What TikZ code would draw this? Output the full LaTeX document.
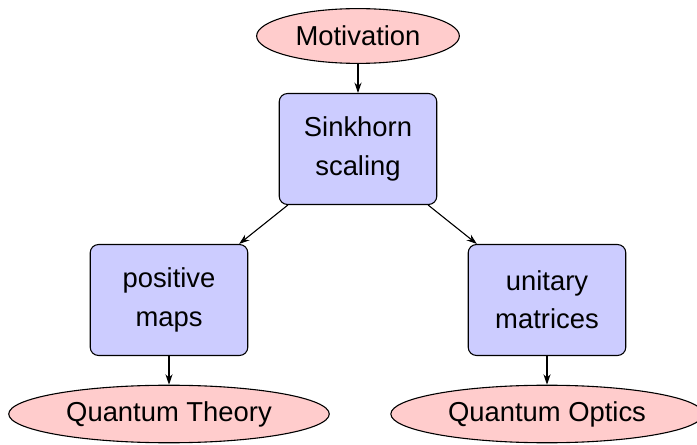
\documentclass[tikz,border=0pt]{standalone}
\usepackage{fontspec}
\setmainfont{Liberation Sans}
\usetikzlibrary{arrows.meta,shapes.geometric}

\begin{document}
\begin{tikzpicture}[x=0.365pt, y=-0.365pt, >={Stealth[length=3.8pt,width=2.6pt]},
  goal/.style={ellipse, draw, fill=red!20, inner sep=0pt, minimum height=21pt},
  topic/.style={rectangle, rounded corners=3pt, draw, fill=blue!20, align=center,
    minimum width=57.5pt, minimum height=40.5pt, font=\fontsize{10}{14}\selectfont}]
  \useasboundingbox (0,0) rectangle (697,445);
  % ellipses
  \node[goal, minimum width=74pt, minimum height=20pt] (motiv) at (358,36) {Motivation};
  \node[goal, minimum width=117pt] (qtheory) at (169,414) {Quantum Theory};
  \node[goal, minimum width=114pt] (qoptics) at (547,414) {Quantum Optics};
  % boxes
  \node[topic] (sinkhorn) at (358,149) {Sinkhorn\\scaling};
  \node[topic] (posmaps) at (169,300) {positive\\maps};
  \node[topic] (unitary) at (547,300) {unitary\\matrices};
  % arrows
  \draw[->] (motiv) -- (sinkhorn);
  \draw[->] (sinkhorn) -- (posmaps);
  \draw[->] (sinkhorn) -- (unitary);
  \draw[->] (posmaps) -- (qtheory);
  \draw[->] (unitary) -- (qoptics);
\end{tikzpicture}
\end{document}
